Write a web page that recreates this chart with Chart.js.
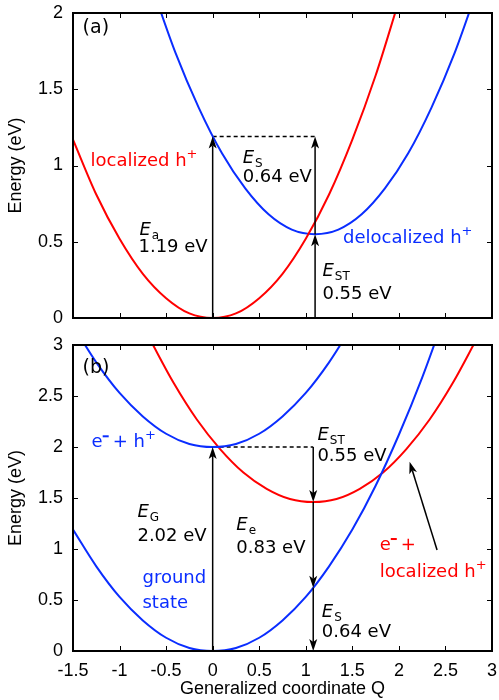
<!DOCTYPE html>
<html><head><meta charset="utf-8">
<script src="https://cdn.jsdelivr.net/npm/chart.js@4/dist/chart.umd.min.js"></script>
<style>
html,body{margin:0;padding:0;background:#fff;}
#p1{position:absolute;left:0;top:0;}
#p2{position:absolute;left:0;top:330px;}
</style></head><body>
<canvas id="p1" width="499" height="330"></canvas>
<canvas id="p2" width="499" height="370"></canvas>
<script>
// ---------- data ----------
const xTickValues = [-1.5, -1, -0.5, 0, 0.5, 1, 1.5, 2, 2.5, 3];
const yTicksTop = [0, 0.5, 1, 1.5, 2];
const yTicksBottom = [0, 0.5, 1, 1.5, 2, 2.5, 3];

// panel (a): localized h+ (red)
const aRedQ = [-1.5, -1.25, -1, -0.75, -0.5, -0.25, 0, 0.25, 0.5, 0.75, 1, 1.25, 1.5, 1.75, 2];
const aRedE = [1.17, 0.81, 0.52, 0.29, 0.13, 0.03, 0, 0.03, 0.13, 0.29, 0.52, 0.81, 1.17, 1.59, 2.08];
// panel (a): delocalized h+ (blue)
const aBlueQ = [-0.65, -0.4, -0.15, 0.1, 0.35, 0.6, 0.85, 1.1, 1.35, 1.6, 1.85, 2.1, 2.35, 2.6, 2.85];
const aBlueE = [2.17, 1.74, 1.38, 1.08, 0.85, 0.68, 0.58, 0.55, 0.58, 0.68, 0.85, 1.08, 1.38, 1.74, 2.17];
// panel (a): dashed level
const aDashQ = [0, 1.1];
const aDashE = [1.19, 1.19];

// panel (b): ground state (blue)
const bGroundQ = [-1.5, -1.25, -1, -0.75, -0.5, -0.25, 0, 0.25, 0.5, 0.75, 1, 1.25, 1.5, 1.75, 2, 2.25, 2.5];
const bGroundE = [1.19, 0.83, 0.53, 0.30, 0.13, 0.03, 0, 0.03, 0.13, 0.30, 0.53, 0.83, 1.19, 1.62, 2.12, 2.68, 3.31];
// panel (b): e- + h+ (blue)
const bExcQ = [-1.5, -1.25, -1, -0.75, -0.5, -0.25, 0, 0.25, 0.5, 0.75, 1, 1.25, 1.5];
const bExcE = [3.19, 2.83, 2.53, 2.30, 2.13, 2.03, 2.0, 2.03, 2.13, 2.30, 2.53, 2.83, 3.19];
// panel (b): e- + localized h+ (red)
const bLocQ = [-0.67, -0.42, -0.17, 0.08, 0.33, 0.58, 0.83, 1.08, 1.33, 1.58, 1.83, 2.08, 2.33, 2.58, 2.83];
const bLocE = [3.05, 2.63, 2.27, 1.98, 1.75, 1.59, 1.49, 1.46, 1.49, 1.59, 1.75, 1.98, 2.27, 2.63, 3.05];
// panel (b): dashed level
const bDashQ = [0, 1.08];
const bDashE = [2.0, 2.0];

// arrows [Q0, E0, Q1, E1] (head at Q1,E1)
const aArrows = [[0, 0, 0, 1.19], [1.1, 0, 1.1, 0.55], [1.1, 0.55, 1.1, 1.19]];
const bArrows = [[0, 0, 0, 2.0], [1.08, 2.0, 1.08, 1.46], [1.08, 1.46, 1.08, 0.62], [1.08, 0.62, 1.08, 0], [2.41, 0.99, 2.115, 1.856]];

const RED = '#ff0000';
const BLUE = '#0a2dff';
const AXFONT = "'Liberation Sans', Arial, sans-serif";
const NOTEFONT = "'DejaVu Sans', sans-serif";

// text notes: position (Q, E) of left end / baseline; parts: [text, style]
const aNotes = [
  {q: -1.397, e: 1.871, c: '#000', s: 19, parts: [['(a)', 'n']]},
  {q: -1.311, e: 0.998, c: RED, parts: [['localized h', 'n'], ['+', 'sup']]},
  {q: -0.786, e: 0.546, c: '#000', parts: [['E', 'i'], ['a', 'sub']]},
  {q: -0.797, e: 0.430, c: '#000', parts: [['1.19 eV', 'n']]},
  {q: 0.322, e: 1.016, c: '#000', parts: [['E', 'i'], ['S', 'sub']]},
  {q: 0.322, e: 0.892, c: '#000', parts: [['0.64 eV', 'n']]},
  {q: 1.179, e: 0.273, c: '#000', parts: [['E', 'i'], ['ST', 'sub']]},
  {q: 1.179, e: 0.127, c: '#000', parts: [['0.55 eV', 'n']]},
  {q: 1.40, e: 0.492, c: BLUE, parts: [['delocalized h', 'n'], ['+', 'sup']]}
];
const bNotes = [
  {q: -1.397, e: 2.723, c: '#000', s: 19, parts: [['(b)', 'n']]},
  {q: -1.30, e: 1.997, c: BLUE, parts: [['e', 'n'], ['-', 'sup'], ['+ h', 'n'], ['+', 'sup']]},
  {q: -0.808, e: 1.317, c: '#000', parts: [['E', 'i'], ['G', 'sub']]},
  {q: -0.808, e: 1.081, c: '#000', parts: [['2.02 eV', 'n']]},
  {q: -0.754, e: 0.664, c: BLUE, parts: [['ground', 'n']]},
  {q: -0.754, e: 0.419, c: BLUE, parts: [['state', 'n']]},
  {q: 0.254, e: 1.186, c: '#000', parts: [['E', 'i'], ['e', 'sub']]},
  {q: 0.254, e: 0.964, c: '#000', parts: [['0.83 eV', 'n']]},
  {q: 1.125, e: 2.069, c: '#000', parts: [['E', 'i'], ['ST', 'sub']]},
  {q: 1.125, e: 1.866, c: '#000', parts: [['0.55 eV', 'n']]},
  {q: 1.172, e: 0.330, c: '#000', parts: [['E', 'i'], ['S', 'sub']]},
  {q: 1.172, e: 0.134, c: '#000', parts: [['0.64 eV', 'n']]},
  {q: 1.794, e: 0.990, c: RED, parts: [['e', 'n'], ['-', 'sup'], ['+', 'n']]},
  {q: 1.794, e: 0.728, c: RED, parts: [['localized h', 'n'], ['+', 'sup']]}
];

// ---------- helpers ----------
const zip = (qs, es) => qs.map((q, i) => ({x: q, y: es[i]}));

function drawRich(ctx, px, py, parts, color, base) {
  const family = NOTEFONT;
  let cx = px;
  for (const [t, s] of parts) {
    let font, dy = 0;
    if (s === 'i') font = `italic ${base}px ${family}`;
    else if (s === 'sub') { font = `12px ${family}`; dy = 4; }
    else if (s === 'sup') { font = `13px ${family}`; dy = -8; }
    else font = `${base}px ${family}`;
    ctx.font = font;
    ctx.fillStyle = color;
    ctx.textAlign = 'left';
    ctx.textBaseline = 'alphabetic';
    if (s === 'sup' && t === '-') {
      // superscript minus as a short bar
      ctx.fillRect(cx, py - 12, 6, 2);
      cx += 10;
      continue;
    }
    ctx.fillText(t, cx, py + dy);
    cx += ctx.measureText(t).width + (s === 'i' ? 1 : 0);
  }
}

function drawArrow(ctx, x0, y0, x1, y1) {
  const dx = x1 - x0, dy = y1 - y0;
  const L = Math.hypot(dx, dy);
  const ux = dx / L, uy = dy / L;
  const hl = 12, hw = 4, notch = 9;
  ctx.strokeStyle = '#000';
  ctx.fillStyle = '#000';
  ctx.lineWidth = 1.5;
  ctx.beginPath();
  ctx.moveTo(x0, y0);
  ctx.lineTo(x1 - ux * notch, y1 - uy * notch);
  ctx.stroke();
  ctx.beginPath();
  ctx.moveTo(x1, y1);
  ctx.lineTo(x1 - ux * hl - uy * hw, y1 - uy * hl + ux * hw);
  ctx.lineTo(x1 - ux * notch, y1 - uy * notch);
  ctx.lineTo(x1 - ux * hl + uy * hw, y1 - uy * hl - ux * hw);
  ctx.closePath();
  ctx.fill();
}

const deco = {
  id: 'deco',
  afterDatasetsDraw(chart) {
    const cfg = chart.options.plugins.deco;
    const {ctx, chartArea: a} = chart;
    const xs = chart.scales.x, ys = chart.scales.y;
    ctx.save();
    // inward tick marks on all four sides
    ctx.strokeStyle = '#000';
    ctx.lineWidth = 1;
    const tl = 5;
    ctx.beginPath();
    for (const v of xTickValues) {
      const px = Math.round(xs.getPixelForValue(v)) + 0.5;
      if (px < a.left + 2 || px > a.right - 2) continue;
      ctx.moveTo(px, a.bottom); ctx.lineTo(px, a.bottom - tl);
      ctx.moveTo(px, a.top); ctx.lineTo(px, a.top + tl);
    }
    for (const v of cfg.yTicks) {
      const py = Math.round(ys.getPixelForValue(v)) + 0.5;
      if (py < a.top + 2 || py > a.bottom - 2) continue;
      ctx.moveTo(a.left, py); ctx.lineTo(a.left + tl, py);
      ctx.moveTo(a.right, py); ctx.lineTo(a.right - tl, py);
    }
    ctx.stroke();
    // arrows
    for (const [q0, e0, q1, e1] of cfg.arrows) {
      drawArrow(ctx, xs.getPixelForValue(q0), ys.getPixelForValue(e0), xs.getPixelForValue(q1), ys.getPixelForValue(e1));
    }
    // frame
    ctx.strokeStyle = '#000';
    ctx.lineWidth = 2;
    ctx.strokeRect(a.left, a.top, a.right - a.left, a.bottom - a.top);
    // notes
    for (const n of cfg.notes) {
      drawRich(ctx, xs.getPixelForValue(n.q), ys.getPixelForValue(n.e), n.parts, n.c, n.s || 18);
    }
    ctx.restore();
  }
};

function curve(q, e, color) {
  return {data: zip(q, e), borderColor: color, borderWidth: 2, pointRadius: 0, fill: false,
          cubicInterpolationMode: 'monotone'};
}
function dashed(q, e) {
  return {data: zip(q, e), borderColor: '#000', borderWidth: 1.5, borderDash: [4, 3], pointRadius: 0, fill: false};
}
function noPad(s) { s.paddingLeft = 0; s.paddingRight = 0; s.paddingTop = 0; s.paddingBottom = 0; }

function yScale(max, ticks) {
  return {
    type: 'linear', min: 0, max: max,
    grid: {display: false, drawTicks: false}, border: {display: false},
    afterBuildTicks: s => { s.ticks = ticks.map(v => ({value: v})); },
    afterFit: s => { s.width = 73; noPad(s); },
    ticks: {color: '#000', padding: 10, font: {family: AXFONT, size: 18}, callback: v => String(v)},
    title: {display: true, text: 'Energy (eV)', color: '#000', font: {family: AXFONT, size: 18}, padding: {top: 5, bottom: 0}}
  };
}

Chart.defaults.font.family = AXFONT;

new Chart(document.getElementById('p1'), {
  type: 'line',
  data: {datasets: [curve(aRedQ, aRedE, RED), curve(aBlueQ, aBlueE, BLUE), dashed(aDashQ, aDashE)]},
  options: {
    responsive: false, animation: false,
    layout: {padding: {top: 13, right: 7, left: 0, bottom: 0}},
    plugins: {legend: {display: false}, tooltip: {enabled: false},
              deco: {yTicks: yTicksTop, arrows: aArrows, notes: aNotes}},
    scales: {
      x: {type: 'linear', min: -1.5, max: 3,
          grid: {display: false, drawTicks: false}, border: {display: false},
          ticks: {display: false},
          afterBuildTicks: s => { s.ticks = xTickValues.map(v => ({value: v})); },
          afterFit: s => { s.height = 12; noPad(s); }},
      y: yScale(2, yTicksTop)
    }
  },
  plugins: [deco]
});

new Chart(document.getElementById('p2'), {
  type: 'line',
  data: {datasets: [curve(bGroundQ, bGroundE, BLUE), curve(bExcQ, bExcE, BLUE), curve(bLocQ, bLocE, RED), dashed(bDashQ, bDashE)]},
  options: {
    responsive: false, animation: false,
    layout: {padding: {top: 15, right: 7, left: 0, bottom: 0}},
    plugins: {legend: {display: false}, tooltip: {enabled: false},
              deco: {yTicks: yTicksBottom, arrows: bArrows, notes: bNotes}},
    scales: {
      x: {type: 'linear', min: -1.5, max: 3,
          grid: {display: false, drawTicks: false}, border: {display: false},
          afterBuildTicks: s => { s.ticks = xTickValues.map(v => ({value: v})); },
          afterFit: s => { s.height = 49; noPad(s); },
          ticks: {color: '#000', padding: 9, maxRotation: 0, autoSkip: false, font: {family: AXFONT, size: 18}, callback: v => String(v)},
          title: {display: true, text: 'Generalized coordinate Q', color: '#000', font: {family: AXFONT, size: 18}, padding: {top: 0, bottom: 0}}},
      y: yScale(3, yTicksBottom)
    }
  },
  plugins: [deco]
});
</script>
</body></html>
